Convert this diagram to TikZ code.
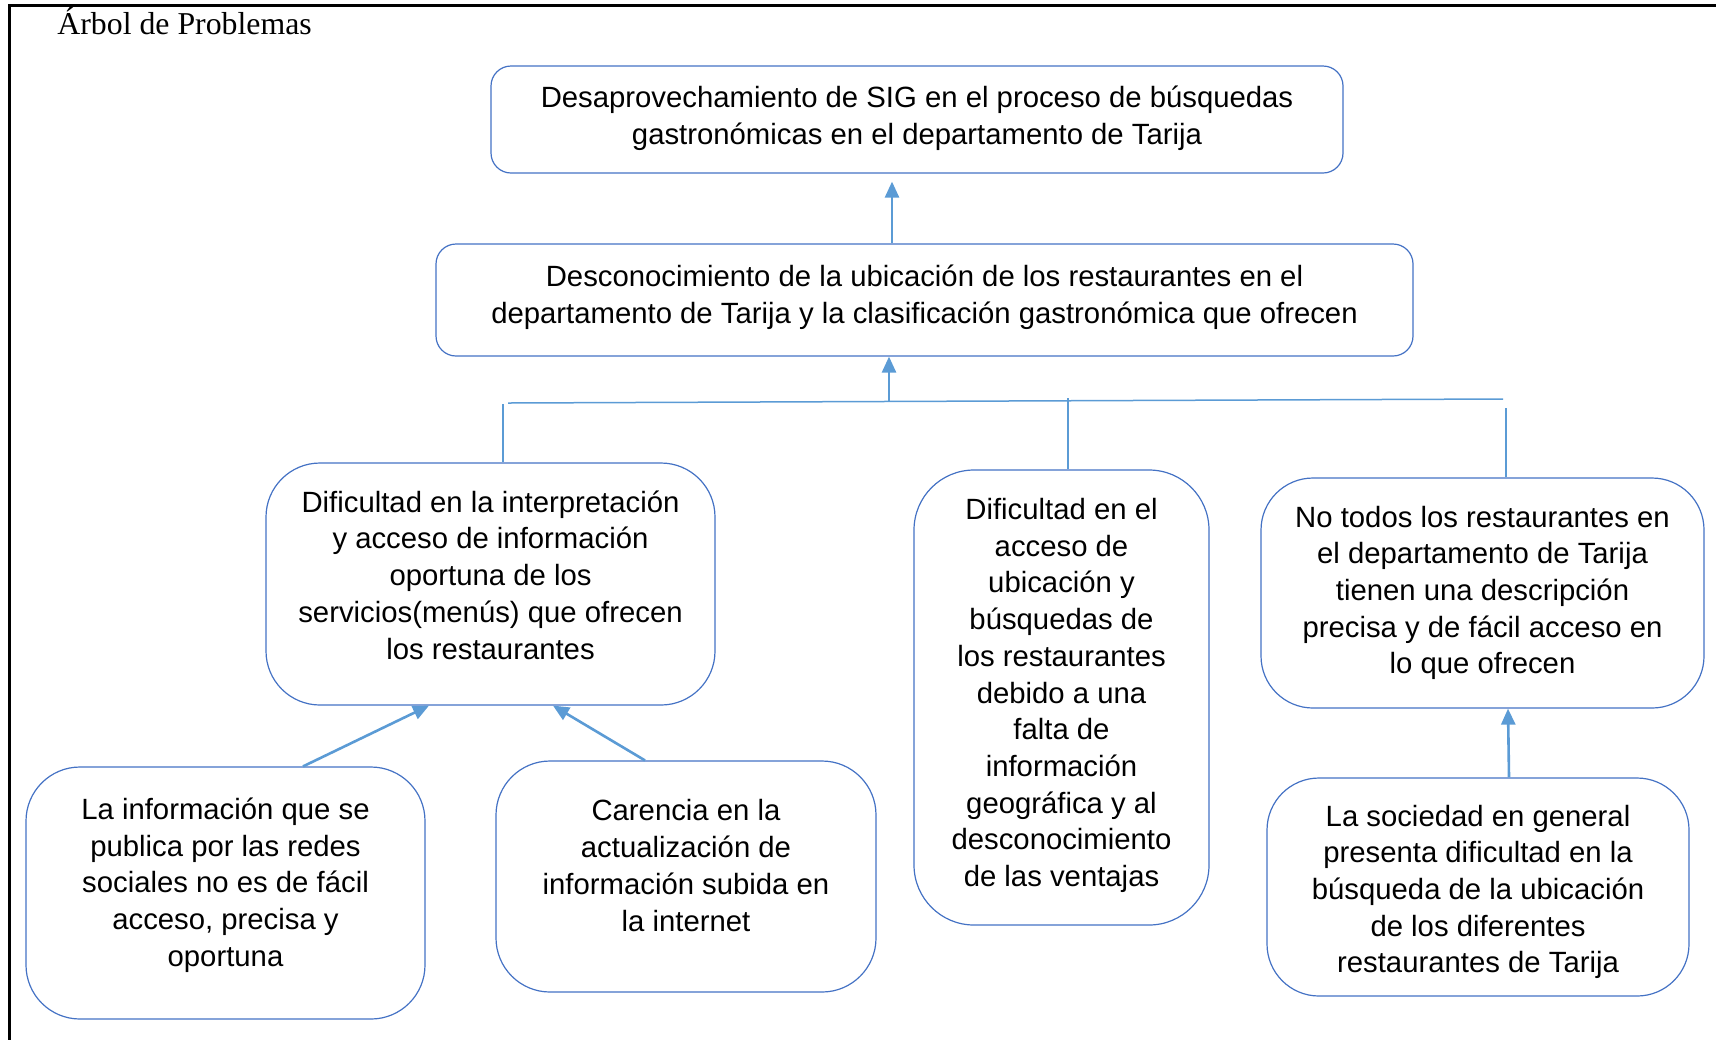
\documentclass[tikz,border=0pt]{standalone}
\usepackage{fontspec}
\setmainfont{Liberation Sans}
\newfontfamily\titlefont{Liberation Serif}
\usetikzlibrary{arrows.meta,calc}
\definecolor{boxblue}{HTML}{4472C4}
\definecolor{arrblue}{HTML}{5B9BD5}
\tikzset{
  pbox/.style={draw=boxblue, line width=0.6pt, rounded corners=#1, inner sep=0pt},
  pbox/.default=10pt,
  ptext/.style={align=center, inner sep=0pt, font=\fontsize{14.65pt}{18.35pt}\selectfont, text=black},
  arr/.style={draw=arrblue, line width=1.3pt, -{Triangle[length=8pt,width=7pt]}},
  tline/.style={draw=arrblue, line width=0.75pt},
}
\begin{document}
\begin{tikzpicture}[x=0.5pt,y=-0.5pt]
\useasboundingbox (0,0) rectangle (1716,1040);
% frame
\draw[line width=1.5pt] (1716,5) -- (9,5) -- (9,1040);
\node[anchor=base west, inner sep=0pt, font=\titlefont\fontsize{15.9pt}{18pt}\selectfont] (title) at (57,34) {Árbol de Problemas};

% boxes
\node[pbox=10pt, minimum width=426pt, minimum height=53.5pt] (b1) at (917,119.5) {};
\node[pbox=10pt, minimum width=488.5pt, minimum height=56pt] (b2) at (924.5,300) {};
\node[pbox=27pt, minimum width=224.5pt, minimum height=121pt] (b3) at (490.5,584) {};
\node[pbox=30pt, minimum width=147.5pt, minimum height=227.5pt] (b4) at (1061.5,697.5) {};
\node[pbox=26pt, minimum width=221.5pt, minimum height=115pt] (b5) at (1482.5,593) {};
\node[pbox=27pt, minimum width=199.5pt, minimum height=126pt] (b6) at (225.5,893) {};
\node[pbox=27pt, minimum width=190pt, minimum height=115.5pt] (b7) at (686,876.5) {};
\node[pbox=26pt, minimum width=211pt, minimum height=109pt] (b8) at (1478,887) {};

% texts
\node[ptext, yshift=0.5pt] (t1) at (b1)
  {Desaprovechamiento de SIG en el proceso de búsquedas\\gastronómicas en el departamento de Tarija};
\node[ptext, yshift=1.5pt] (t2) at (b2)
  {Desconocimiento de la ubicación de los restaurantes en el\\departamento de Tarija y la clasificación gastronómica que ofrecen};
\node[ptext, yshift=4.5pt] (t3) at (b3)
  {Dificultad en la interpretación\\y acceso de información\\oportuna de los\\servicios(menús) que ofrecen\\los restaurantes};
\node[ptext, yshift=1pt] (t4) at (b4)
  {Dificultad en el\\acceso de\\ubicación y\\búsquedas de\\los restaurantes\\debido a una\\falta de\\información\\geográfica y al\\desconocimiento\\de las ventajas};
\node[ptext] (t5) at (b5)
  {No todos los restaurantes en\\el departamento de Tarija\\tienen una descripción\\precisa y de fácil acceso en\\lo que ofrecen};
\node[ptext, yshift=4pt] (t6) at (b6)
  {La información que se\\publica por las redes\\sociales no es de fácil\\acceso, precisa y\\oportuna};
\node[ptext, yshift=5.5pt] (t7) at (b7)
  {Carencia en la\\actualización de\\información subida en\\la internet};
\node[ptext, yshift=-2.5pt] (t8) at (b8)
  {La sociedad en general\\presenta dificultad en la\\búsqueda de la ubicación\\de los diferentes\\restaurantes de Tarija};

% connector helper coordinates
\coordinate (c21) at (892,0);
\coordinate (hL) at (508,403);
\coordinate (hR) at (1503,399);
\coordinate (hM) at (889,401.5);
\coordinate (v3) at (503,404);
\coordinate (v4) at (1068,398);
\coordinate (v5) at (1506,408);
\coordinate (s6) at (303,0);
\coordinate (t6) at (429,0);
\coordinate (s7) at (645,0);
\coordinate (t7) at (553,0);
\coordinate (s8) at (1509,0);
\coordinate (t8) at (1508,0);

\draw[arr, shorten >=4pt] (b2.north -| c21) -- (b1.south -| c21);
\draw[tline] (hL) -- (hR);
\draw[arr] (hM) -- (b2.south -| hM);
\draw[tline] (v3) -- (b3.north -| v3);
\draw[tline] (v4) -- (b4.north -| v4);
\draw[tline] (v5) -- (b5.north -| v5);
\draw[arr] (b6.north -| s6) -- (b3.south -| t6);
\draw[arr] (b7.north -| s7) -- (b3.south -| t7);
\draw[arr] (b8.north -| s8) -- (b5.south -| t8);
\end{tikzpicture}
\end{document}
